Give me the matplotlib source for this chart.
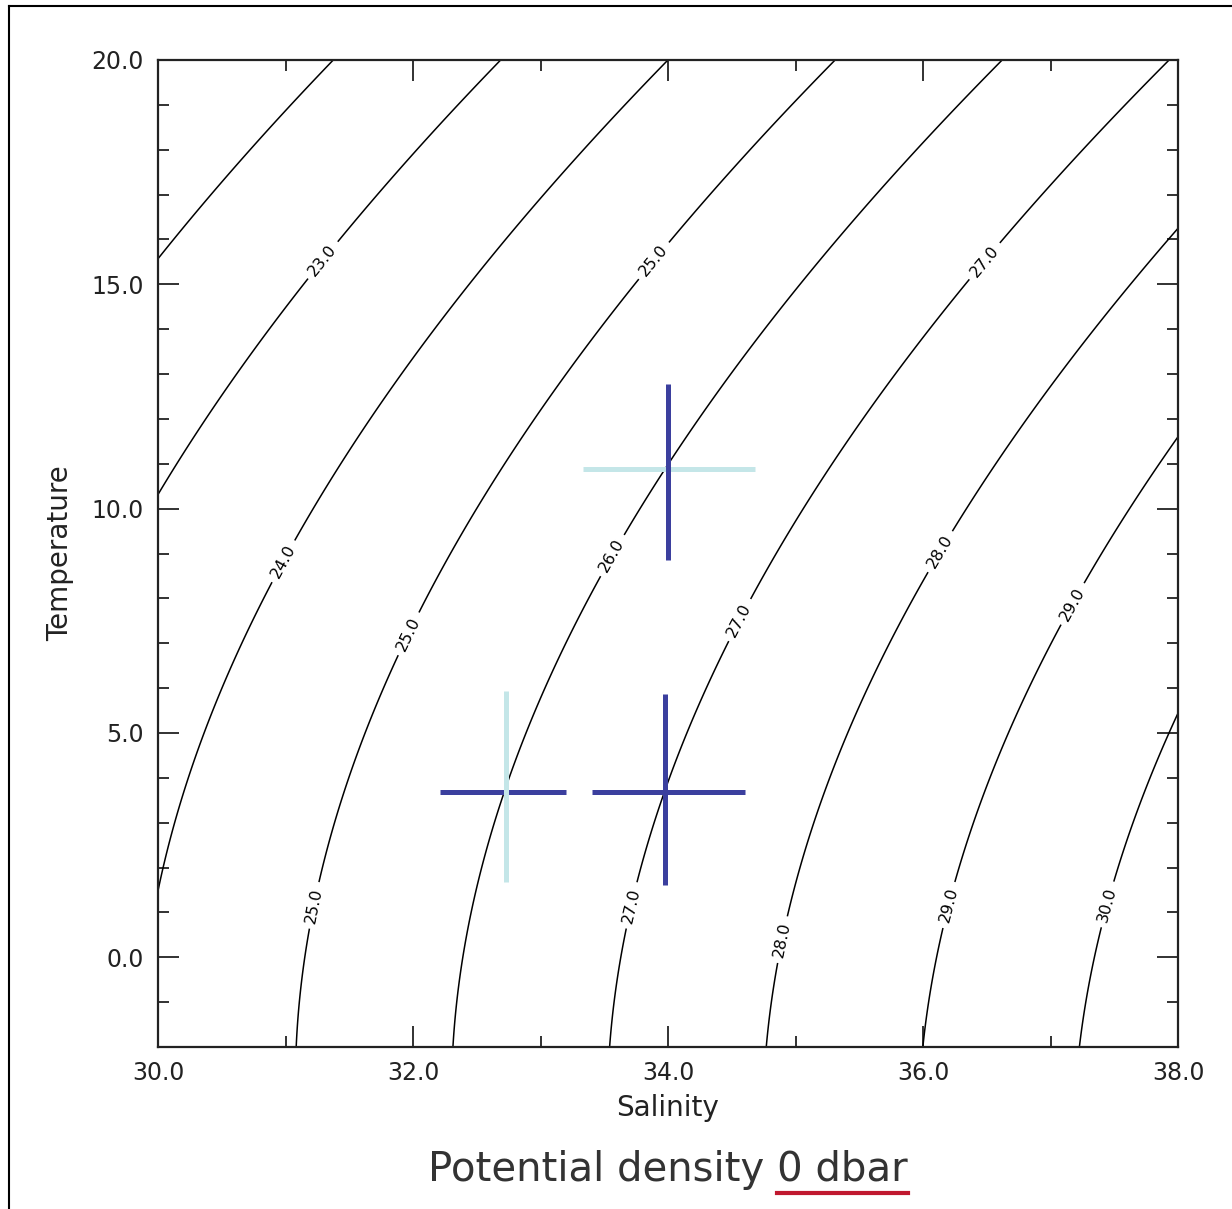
import numpy as np
import matplotlib
matplotlib.use("Agg")
import matplotlib.pyplot as plt
from matplotlib.lines import Line2D

# axis ranges and contour levels (potential density anomaly, kg/m3 - 1000)
salinity_range = [30.0, 38.0]
temp_range = [-2.0, 20.0]
sigma_levels = [22.0, 23.0, 24.0, 25.0, 26.0, 27.0, 28.0, 29.0, 30.0]

# UNESCO EOS-80 coefficients at p = 0
rho_w_coef = [999.842594, 6.793952e-2, -9.095290e-3, 1.001685e-4, -1.120083e-6, 6.536332e-9]
a_coef = [8.24493e-1, -4.0899e-3, 7.6438e-5, -8.2467e-7, 5.3875e-9]
b_coef = [-5.72466e-3, 1.0227e-4, -1.6546e-6]
c_coef = 4.8314e-4

# contour label positions (S, T)
label_pos = [(31.31, 15.5), (31.0, 8.8), (31.9, 7.3), (31.22, 1.16), (33.9, 15.5),
             (33.56, 8.96), (36.49, 15.5), (34.56, 7.52), (33.74, 1.14),
             (34.92, 0.38), (36.1, 9.1), (36.21, 1.16), (37.19, 7.85), (37.47, 1.16)]

# crosses: salinity / temperature ranges and colours
cross_s = [34.0, 32.73, 33.98]
cross_t = [10.88, 3.68, 3.68]
s_lo = [33.33, 32.21, 33.40]
s_hi = [34.68, 33.20, 34.60]
t_lo = [8.85, 1.67, 1.61]
t_hi = [12.78, 5.93, 5.86]
s_color = ['#c4e6e8', '#3b3f9e', '#3b3f9e']
t_color = ['#3b3f9e', '#c4e6e8', '#3b3f9e']

xticks = [30.0, 32.0, 34.0, 36.0, 38.0]
yticks = [0.0, 5.0, 10.0, 15.0, 20.0]


def sigma0(S, T):
    rho_w = sum(c * T ** i for i, c in enumerate(rho_w_coef))
    A = sum(c * T ** i for i, c in enumerate(a_coef))
    B = sum(c * T ** i for i, c in enumerate(b_coef))
    return rho_w + A * S + B * S ** 1.5 + c_coef * S ** 2 - 1000.0


fig = plt.figure(figsize=(12.32, 12.09), dpi=100)
W, H = 1232, 1209
ax = fig.add_axes([158 / W, 1 - 1047 / H, 1020 / W, 987 / H])

S, T = np.meshgrid(np.linspace(*salinity_range, 161), np.linspace(*temp_range, 221))
cs = ax.contour(S, T, sigma0(S, T), levels=sigma_levels, colors='black', linewidths=1.1)
ax.clabel(cs, fmt='%.1f', fontsize=11.5, inline=True, inline_spacing=6, manual=label_pos)

for i in range(len(cross_s)):
    ax.hlines(cross_t[i], s_lo[i], s_hi[i], color=s_color[i], lw=3.6, zorder=5)
    ax.vlines(cross_s[i], t_lo[i], t_hi[i], color=t_color[i], lw=3.6, zorder=5)

ax.set_xlim(salinity_range)
ax.set_ylim(temp_range)
ax.set_xticks(xticks)
ax.set_yticks(yticks)
ax.set_xticks(np.arange(31, 38, 2), minor=True)
ax.set_yticks([v for v in range(-2, 20) if v % 5 != 0], minor=True)
ax.set_xticklabels([f'{v:.1f}' for v in xticks])
ax.set_yticklabels([f'{v:.1f}' for v in yticks])
ax.tick_params(which='both', direction='in', top=True, right=True, width=1.3, colors='#222222',
               labelcolor='#222222', labelsize=17)
ax.tick_params(which='major', length=15, pad=10)
ax.tick_params(which='minor', length=8)
for sp in ax.spines.values():
    sp.set_linewidth(1.6)
    sp.set_color('#222222')

fig.text(668 / W, 1 - 1108 / H, 'Salinity', ha='center', va='center', fontsize=20, color='#222222')
fig.text(60 / W, 1 - 553 / H, 'Temperature', ha='center', va='center', rotation=90,
         fontsize=20, color='#222222')

title = fig.text(668 / W, 1 - 1170 / H, 'Potential density 0 dbar', ha='center', va='center',
                 fontsize=29, color='#333333')
fig.canvas.draw()
bb = title.get_window_extent()
tmp = fig.text(0, 0, '0 dbar', fontsize=29)
part_w = tmp.get_window_extent().width
tmp.remove()
y_ul = 1 - 1193 / H
fig.add_artist(Line2D([(bb.x1 - part_w) / W, bb.x1 / W], [y_ul, y_ul], color='#c0182f', lw=3))

# outer frame (left and top edges visible)
fig.add_artist(Line2D([9 / W, 9 / W], [0, 1 - 6 / H], color='black', lw=1.5))
fig.add_artist(Line2D([9 / W, 1], [1 - 6 / H, 1 - 6 / H], color='black', lw=1.5))

fig.savefig('out.png', dpi=100)
